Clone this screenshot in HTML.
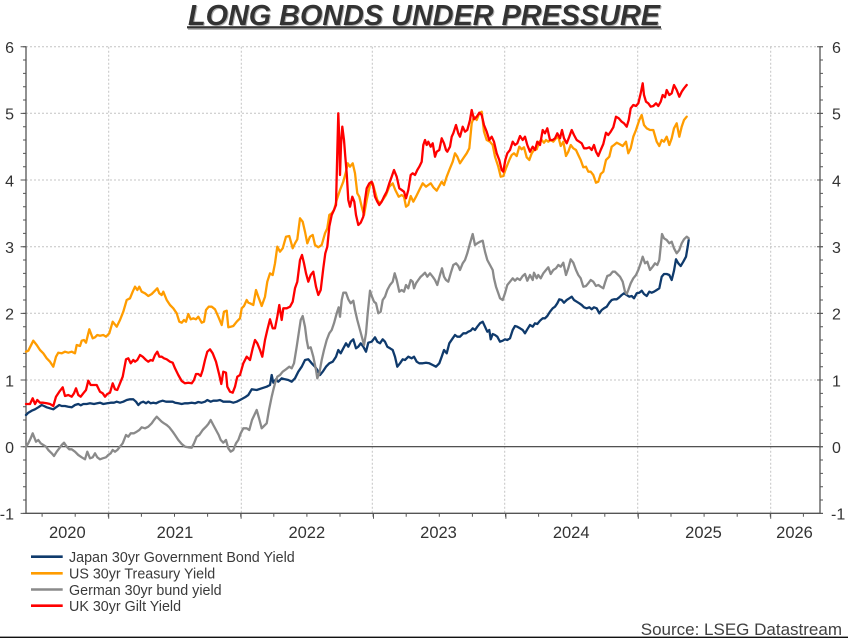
<!DOCTYPE html>
<html>
<head>
<meta charset="utf-8">
<style>
  html,body{margin:0;padding:0;background:#fff;}
  svg{display:block;}
  text{font-family:"Liberation Sans",Arial,sans-serif;}
</style>
</head>
<body>
<svg width="848" height="638" viewBox="0 0 848 638" xmlns="http://www.w3.org/2000/svg">
  <rect x="0" y="0" width="848" height="638" fill="#fff"/>

  <!-- Title -->
  <text x="425" y="26" text-anchor="middle" font-size="28.8" font-weight="bold" font-style="italic" fill="#b0b0b0">LONG BONDS UNDER PRESSURE</text>
  <text x="424" y="25" text-anchor="middle" font-size="28.8" font-weight="bold" font-style="italic" fill="#333">LONG BONDS UNDER PRESSURE</text>
  <rect x="187" y="26.2" width="474" height="2.2" fill="#333"/>
  <rect x="188" y="28.4" width="474" height="1.3" fill="#a0a0a0"/>

  <!-- Gridlines -->
  <g stroke="#c4c4c4" stroke-width="1" stroke-dasharray="2,2" fill="none">
    <line x1="26" y1="46.7" x2="820" y2="46.7"/>
    <line x1="26" y1="113.3" x2="820" y2="113.3"/>
    <line x1="26" y1="180" x2="820" y2="180"/>
    <line x1="26" y1="246.7" x2="820" y2="246.7"/>
    <line x1="26" y1="313.3" x2="820" y2="313.3"/>
    <line x1="26" y1="380" x2="820" y2="380"/>
    <line x1="108.7" y1="46.7" x2="108.7" y2="513.3"/>
    <line x1="241.3" y1="46.7" x2="241.3" y2="513.3"/>
    <line x1="372.3" y1="46.7" x2="372.3" y2="513.3"/>
    <line x1="504.7" y1="46.7" x2="504.7" y2="513.3"/>
    <line x1="637.7" y1="46.7" x2="637.7" y2="513.3"/>
    <line x1="770.7" y1="46.7" x2="770.7" y2="513.3"/>
  </g>

  <!-- zero line -->
  <line x1="26" y1="446.7" x2="820" y2="446.7" stroke="#3a3a3a" stroke-width="1.2"/>

  <!-- Axes -->
  <g stroke="#555" fill="none">
    <line x1="26" y1="46.2" x2="26" y2="514" stroke-width="1.3"/>
    <line x1="820" y1="46.2" x2="820" y2="514" stroke-width="1.3"/>
    <line x1="25.4" y1="513.3" x2="820.6" y2="513.3" stroke-width="1.3"/>
    <!-- left minor ticks -->
    <line x1="24.5" y1="46.2" x2="24.5" y2="514" stroke-width="3" stroke-dasharray="1 12.333"/>
    <!-- left major ticks -->
    <line x1="23.3" y1="46.2" x2="23.3" y2="514" stroke-width="5.4" stroke-dasharray="1 65.667"/>
    <!-- right minor ticks -->
    <line x1="821.5" y1="46.2" x2="821.5" y2="514" stroke-width="3" stroke-dasharray="1 12.333"/>
    <!-- right major ticks -->
    <line x1="820" y1="46.2" x2="820" y2="514" stroke-width="6" stroke-dasharray="1 65.667"/>
    <!-- bottom minor ticks -->
    <line x1="41.6" y1="515" x2="820" y2="515" stroke-width="3.4" stroke-dasharray="1 32.1"/>
    <!-- bottom major ticks -->
    <line x1="108.2" y1="516" x2="820" y2="516" stroke-width="5.4" stroke-dasharray="1 131.4"/>
  </g>

  <!-- Y labels -->
  <g font-size="16" fill="#333" text-anchor="end">
    <text x="14" y="53">6</text>
    <text x="14" y="119.6">5</text>
    <text x="14" y="186.3">4</text>
    <text x="14" y="253">3</text>
    <text x="14" y="319.6">2</text>
    <text x="14" y="386.3">1</text>
    <text x="14" y="453">0</text>
    <text x="14" y="519.6">-1</text>
  </g>
  <g font-size="16" fill="#333" text-anchor="start">
    <text x="832" y="53">6</text>
    <text x="832" y="119.6">5</text>
    <text x="832" y="186.3">4</text>
    <text x="832" y="253">3</text>
    <text x="832" y="319.6">2</text>
    <text x="832" y="386.3">1</text>
    <text x="832" y="453">0</text>
    <text x="831" y="519.6">-1</text>
  </g>

  <!-- X labels -->
  <g font-size="16.5" fill="#333" text-anchor="middle">
    <text x="67.3" y="538">2020</text>
    <text x="175" y="538">2021</text>
    <text x="306.8" y="538">2022</text>
    <text x="438.5" y="538">2023</text>
    <text x="571.2" y="538">2024</text>
    <text x="703.5" y="538">2025</text>
    <text x="794.5" y="538">2026</text>
  </g>

  <!-- Series -->
  <g fill="none" stroke-width="2.3" stroke-linejoin="round" stroke-linecap="round">
    <!-- Japan -->
    <polyline stroke="#0f3a6c" points="26,415 28.3,412.7 31.7,410.7 35,409.3 38.3,407.3 41.7,405 44,406 46.7,407.3 50,408.3 53.3,409.3 56,407.3 59.3,405 61.7,406 65,406 68.3,406.7 71.7,407.3 75,405 78.3,404 80.7,405.3 83.3,404 86.7,404 90,403.3 94,404 97.3,403.3 100,402.7 103.3,404 107.3,403.3 110.7,402.7 114,402.7 116.7,401.7 120,402.7 123.3,401.7 126.7,400 130,399.3 133.3,399.3 136,401.7 138.3,405 140.7,402.7 143.3,401.7 146,403.3 148.3,401.7 150.7,403.3 153.3,402.7 156,403.3 159.3,401.7 162.7,400.7 166,401.7 169.3,401.7 172.7,401.7 175,402.7 178.3,403.3 181.7,404 185,403.3 188.3,403.3 191.7,402.7 195,403.3 198.3,402 201.7,402.7 205,401.7 207.3,400 210.7,401.7 213.3,400.7 216.7,400.7 220,400 223.3,401.7 226.7,401.7 230,401.7 233.3,402.7 236.7,401.7 240,400 245,397.3 248.3,395 251.7,389.3 256.7,390 261.7,388.3 266.7,386.7 270,385 271.7,375 273.3,382.7 276,379.3 278.3,381.7 281.7,378.3 285,379.3 288.3,380 291.7,381.7 295,378.3 298.3,371.7 301.7,366.7 305,360 308.3,359.3 311.7,363.3 315,366.7 317.3,370 320,375 322.7,371.7 326,366.7 329.3,363.3 332.7,361.7 336,356.7 338.3,350 340.7,353.3 343.3,348.3 346,343.3 348.3,346.7 350.7,341.7 353.3,339.3 356,348.3 358.3,346.7 360.7,343.3 363.3,346.7 366,351.7 368.3,342.7 371.7,341.7 375,337.3 377.3,341.7 380,343.3 382.7,339.3 385,341.7 387.3,346.7 390,348.3 392.7,350 395,356.7 397.3,366.7 400,363.3 402.7,359.3 405,360 408.3,356.7 411.7,358.3 414,356.7 416.7,361.7 419.3,363.3 422.7,363.3 426,362.7 429.3,363.3 432.7,365 436,366.7 439.3,363.3 441.7,356.7 444,350 446.7,353.3 449.3,343.3 452.7,338.3 455,335 457.3,336.7 460,336.7 463.3,333.3 466,333.3 468.3,331.7 470.7,330.7 472.7,328.3 475,330 477.3,326.7 480,323.3 482.7,321.7 485,326.7 487.3,331.7 489.3,330 490.7,339.3 492.7,334 495,335 497.3,336.7 500,341.7 502.7,340.7 505,339.3 507.3,340 510,338.3 512.7,330 515,326 517.3,326.7 520,328.3 522.7,330 525,333.3 527.3,329.3 530,325 532.7,326.7 535,323.3 537.3,324 540,320.7 542.7,318.3 545,318.3 547.3,316 550,311.7 552.7,308.3 555,306.7 557.3,303.3 559.3,299.3 561.7,300 564,302.7 566.7,300 569.3,298.3 571.7,296.7 574,300 576.7,301.7 579.3,303.3 581.7,305 584,307.3 586.7,308.3 589.3,307.3 591.7,309.3 594,307.3 596.7,308.3 599.3,313.3 601.7,310 604,308.3 606.7,306.7 609.3,302.7 611.7,300 614,299.3 616.7,299.3 619.3,297.3 621.7,295 624,293.3 626.7,295 629.3,296.7 631.7,296 634,298.3 636.7,293.3 639.3,292.7 641.7,290.7 644,294 646.7,296 649.3,291.7 651.7,292.7 654,291.7 656.7,290 659.3,288.3 661.7,276.7 664,274 666.7,274 669.3,275 671.7,280 674,270.7 676,259.3 678.3,263.3 680.7,266 683.3,261.7 686,256.7 687.7,246.7 688.7,240"/>
    <!-- US -->
    <polyline stroke="#ff9c00" points="26,351.7 28.3,350.7 33.3,340.7 36.7,345 40,350 43.3,353.3 46.7,358.3 50,361.7 53.3,366.7 56,356.7 58.3,352.7 61.7,353.3 65,351.7 68.3,352.7 71.7,351.7 75,353.3 76.7,345 80,346 81.7,340.7 84,340 86,342.7 89.3,329.3 92.7,338.3 95,337.3 97.3,335 100,335.7 103.3,335 106,336.7 109.3,333.3 112.7,321.7 116.7,326.7 120,320 123.3,311.7 126.7,300 130,298.3 132.7,291.7 135,286.7 137.3,290 139.3,286.7 141.7,291.7 145,293.3 148.3,296 151.7,294 155,290.7 157.3,288.3 159.3,293.3 161.7,295 163.3,291.7 166.7,300 170,305 173.3,308.3 176.7,313.3 179.3,321.7 181.7,322.7 184,320 186,321.7 188.3,314 190.7,319.3 193.3,318.3 196,319.3 198.3,316.7 201.7,322.7 204,321.7 206,310 208.7,306.7 211.7,306.7 215,309.3 218.3,316.7 221.7,325 224,311.7 226.7,310.7 228.3,327.3 230.7,326.7 233.3,326 236.7,321.7 240,318.3 241.7,308.3 244,306 246.7,300 248.3,302.7 250,303.3 253.3,305 256,290 258.3,296.7 261.7,306 265,296.7 267.3,281.7 270,273.3 272.7,275 275,263.3 277.3,246.7 280,251.7 282.7,248.3 286,236.7 289.3,236 292.7,248.3 295,243.3 297.3,239.3 300,218.3 302.7,221.7 305,231.7 307.3,243.3 310,236.7 312.7,235 315,245 318.3,247.3 321.7,245 325,233.3 327.3,228.3 329.3,215 331.7,213.3 334,210 336.7,200 340,190 343.3,181.7 346,171.7 347.7,163.3 350,166.7 352.7,163.3 355,173.3 357.3,193.3 359.3,196.7 361.7,206.7 364,215 366.7,200 370,185 372.7,183.3 375,191.7 377.3,200 380,203.3 382.7,200 386,195 389.3,186.7 392.7,183.3 395.3,190 398.7,196.7 401.7,195 404,196.7 406,206.7 408.3,205 410.7,196 413.3,201.7 416,196.7 419.3,190 422.7,183.3 426,186.7 428.3,185 430.7,183.3 433.3,187.3 436.7,190.7 439.3,186 441.7,181.7 444,185 446.7,176.7 449.3,170 452.7,161.7 455,153.3 457.3,156.7 460,163.3 463.3,158.3 466.7,153.3 469.3,148.3 471.7,123.3 474,116.7 476.7,120 479.3,113.3 481.7,111.7 484,131.7 486.7,140 490,141.7 492.7,145 495,156.7 498.3,166.7 500.7,176.7 503.3,176 506,168.3 509.3,160 511.7,155 514,153.3 516.7,156 519.3,146.7 521.7,149.3 524,147.3 526.7,157.3 529.3,160 531.7,153.3 534,150 536.7,149.3 539.3,141.7 541.7,140 544,142.7 546,140 548.3,141.7 550.7,140 553.3,141.7 556,138.3 558.3,136.7 560.7,146 563.3,141.7 566,156 568.3,151.7 570.7,145 573.3,148.3 576,150 578.3,155 580.7,160 583.3,167.3 586,166.7 588.3,171.7 590.7,171.7 593.3,175 596,182.7 598.3,181.7 600.7,174 603.3,171.7 606,160 609.3,156.7 611.7,146.7 614,145 616.7,142.7 619.3,144 622.7,146 626,141.7 628.3,153.3 630.7,148.3 633.3,136.7 636,130 639.3,120 641.7,115 644,125 646.7,128.3 650,130 653.3,130 656.7,141.7 659.3,146 661.7,140 664,141.7 666.7,136.7 669.3,145 671.7,138.3 674,128.3 676.7,123.3 679.3,136.7 681.7,126.7 684,120 686.7,116.7"/>
    <!-- German -->
    <polyline stroke="#8a8a8a" points="26,446.7 28.3,443.3 30.7,438.3 32.7,433.3 34,436.7 36,441.7 38.3,440 40.7,443.3 43.3,445 46,446.7 48.3,450 51.7,453.3 54,456 56.7,451.7 59.3,448.3 61.7,445 64,442.7 66.7,446.7 69.3,449.3 71.7,449.3 75,451.7 78.3,455 81.7,457.3 85,459.3 87.3,451.7 90,458.3 92.7,457.3 95,453.3 97.3,457.3 100,459.3 102.7,458.3 106,457.3 108.3,455 110.7,453.3 112.7,450 115,451.7 117.3,450 120,446.7 122.7,443.3 126,435 128.3,436.7 130.7,433.3 134,433.3 136.7,431.7 139.3,430 141.7,427.3 145,428.3 148.3,426.7 151.7,423.3 154,420 156.7,416.7 159.3,419.3 161.7,421.7 164,423.3 166.7,425 169.3,427.3 172.7,431.7 175,435 178.3,440 181.7,444 185,446.7 188.3,447.3 191.7,447.7 194,443.3 196.7,436.7 199.3,435 202.7,430 206,426.7 208.3,424 210.7,420 213.3,425 216,430 218.7,435 220.7,440 223.3,442.7 226,440 228.3,448.3 230.7,451.7 233.3,450 236,443.3 238.3,440 240.7,433.3 243.3,428.3 246.7,428.3 249.3,430 252,420 256.7,410 259,418 261.7,428.3 264,426 266.7,423.3 269,410 271.7,396.7 273.3,390 275,383.3 277.3,376.7 280,375 282.7,371.7 286,369.3 289.3,366.7 291.7,368.3 294,363.3 296.7,346.7 298.7,333.3 300.7,320 302.7,316 305,326.7 306.7,340 308.3,348.3 310.7,347.3 313.3,356.7 316,370 317.3,378.3 319.3,373.3 321.7,360 324,350 326.7,340 329.3,333.3 331.7,330 334,323.3 336.7,313.3 338.7,307.3 340,316.7 341.7,300 343.3,292.7 346,292.7 348.3,299.3 350.7,303.3 353.3,300.7 355,310 357.3,320 360,330 362.7,340 364,345 366,333.3 367.7,313.3 370,290.7 372,296.7 374,301.7 376,303.3 378.3,313.3 380.7,311.7 382.7,300 385,296.7 387.3,290 390,285 392.7,281.7 394.7,273.3 396.7,280 399.3,291.7 401.7,290 404,291.7 406,285 408.3,288.3 410.7,280 412.7,281.7 414,288.3 416,283.3 418.3,280 420.7,276.7 422.7,275 425,272.7 427.3,276.7 430,273.3 432.7,276.7 435,280 437.3,285 440,275 442,268.3 444,276.7 446,280 448.3,281.7 450.7,273.3 453.3,265 456,263.3 458.3,266 460,270 462.7,263.3 465,260 467.3,253.3 470,243.3 472.7,234 475,245 477.3,243.3 480,241.7 482.7,240.7 485,251.7 487.3,260 490,265 492.7,270 494,278.3 496,286.7 498.3,293.3 500,298.3 502.7,300 505,293.3 507.3,285 510,281.7 512.7,278.3 515,280.7 517.3,278.3 520,280 522.7,276 525,274 527.3,280.7 530,275 532.7,280 534,272.7 536.7,278.3 538.3,275 540.7,278.3 543.3,273.3 546,270 548.3,267.3 550.7,274 553.3,270 556,268.3 558.3,265 560.7,266.7 563.3,262.7 566,275 568.3,268.3 570.7,259.3 573.3,262.7 576,270 578.3,275 580.7,278.3 583.3,286.7 586,286 588.3,283.3 590.7,280 593.3,281.7 596,286 598.3,285 600.7,286.7 603.3,288.3 605.3,281.7 607.3,276 610,275 612.7,271.7 615,271.7 617.3,274 620,276.7 622.7,281.7 625,291.7 626.7,294 628.3,290 630.7,283.3 633.3,278.3 636,275 638.3,270 640.7,263.3 642.7,256.7 645,263.3 647.3,261.7 650,270 652.7,266.7 655,263.3 657.3,265 659.3,260 660.7,246.7 662,234 664,238.3 666.7,240 669.3,243.3 671.7,241.7 674,248.3 676.7,253.3 679.3,250 681.7,243.3 684,239.3 686.7,236.7 688.7,238.3"/>
    <!-- UK -->
    <polyline stroke="#ff0000" points="26,404 30,404 32.7,398.3 35,404 37.3,400 40,402.7 43.3,402.7 46.7,403.3 50,404 53.3,406 56,396.7 59.3,391.7 62.7,387.3 65,396 68.3,395 71.7,396.7 74,393.3 76,388.3 78.3,395 80.7,396.7 83.3,393.3 86,390 88.3,380.7 90.7,385 93.3,385 96.7,385 100,391.7 102.7,393.3 105,396.7 107.3,394 110,392.7 112.7,383.3 115,389.3 117.3,390 120,383.3 122.7,376.7 126,359.3 128.3,358.3 130.7,363.3 133.3,360 135,361.7 137.3,360 140,355 142.7,356.7 146,360 148.3,361.7 150.7,360 152.7,360.7 155,355 157.3,351.7 159.3,356.7 161.7,356.7 164,358.3 166.7,359.3 170,361.7 172.7,362.7 175,368.3 178.3,375 181.7,381 185,383.3 188.3,382.7 191.7,383.3 194,380 196,374 198.3,374 200.7,376 202.7,370 205,360 207.3,351.7 210,349.3 212.7,353.3 216,361.7 219.3,375 221.3,384 223.3,371.7 226,372.7 227.3,386.7 230,391.7 232.7,392.7 235,386.7 237.3,376.7 240,375 243.3,363.3 246.7,356.7 250,360 252.7,348.3 255,340 257.3,343.3 260,350 262.3,356.7 265,340 267.3,330 270,319.3 272.7,328.3 275,328.3 277.3,316.7 279.3,305 281.7,320 283.3,308.3 286.7,308.3 290,306.7 292.7,301.7 295,288.3 297.3,281.7 300,260 302,255 304,263.3 306,273.3 308.3,281.7 310.7,275 313.3,271.7 316,286.7 318.3,295 320.7,290 323.3,268.3 325.3,253.3 327.3,246.7 329.3,226.7 331.7,215 334,210 336,205 337.3,151.7 338.3,113.3 339.3,140 340,175 341,145 342.3,126.7 344,140 345.3,156.7 346.7,173.3 348.3,200 350,206.7 352.3,196.7 354.3,201.7 356,215 358.3,225 360.7,222.7 363.3,216.7 365,200 366.7,188.3 369.3,183.3 371.7,181.7 373.3,186.7 375,196.7 377.3,201.7 379.3,205 381.7,201.7 384,196.7 386.7,191.7 389.3,183.3 391.7,176.7 394,170 396.7,176.7 399.3,188.3 401.7,190 404,191.7 406,198.3 408.3,190 410.7,175 412.7,173.3 415,175 417.3,170 419.3,166.7 421.7,161.7 423.3,145 425,140 426.7,145 428.3,141.7 430.7,146.7 432.7,143.3 435,156.7 436.7,151.7 439.3,150 441.7,138.3 444,143.3 446,150 447.3,151.7 450,146.7 451.7,136.7 453.3,133.3 456,125 458.3,133.3 460,136.7 462.7,126.7 465,131.7 467.3,130 470,120 471.7,110 474,119.3 476.7,116.7 479.3,112.7 481.7,115 484,125 486.7,131.7 489.3,140 491.7,136.7 494,141.7 496.7,153.3 499.3,160 501.7,170 503.3,171.7 505.3,160 507.3,153.3 510,150 512.7,141.7 515,145 517.3,143.3 520,136 522.7,140 525,136.7 527.3,145 530,151.7 532.7,146.7 535,150 537.3,141.7 540,145 542.7,130 545,133.3 547.3,128.3 550,140 552.7,140 555,138.3 557.3,133.3 560,138.3 562,130 564,138.3 566.7,143.3 569.3,136.7 571.7,130 574,135 576.7,140 579.3,141.7 581.7,143.3 584,148.3 586.7,148.3 589.3,147.3 591.7,150 594,145 596,151.7 598.3,156 600.7,150 603.3,144 606,132.7 608.3,135 610.7,131.7 613.3,127.3 616,116.7 618.7,118.3 621.7,121.7 624,123.3 626.7,126.7 628.7,120 630.7,108.3 633.3,105 636,106 638.3,103.3 640.7,93.3 642.7,83.3 644,95 646,101.7 648.3,103.3 650.7,106.7 653.3,106 656,103.3 658.3,106 660.7,101.7 662.7,95 665,97.3 666.7,90 669.3,95 671.7,93.3 674,85 676.7,90 679.3,96.7 681.7,91.7 684,88.3 686.7,85"/>
  </g>

  <!-- Legend -->
  <g stroke-width="2.6">
    <line x1="31" y1="556.7" x2="62.7" y2="556.7" stroke="#0f3a6c"/>
    <line x1="31" y1="573.3" x2="62.7" y2="573.3" stroke="#ff9c00"/>
    <line x1="31" y1="589.5" x2="62.7" y2="589.5" stroke="#8a8a8a"/>
    <line x1="31" y1="605.7" x2="62.7" y2="605.7" stroke="#ff0000"/>
  </g>
  <g font-size="14.3" fill="#3a3a3a">
    <text x="69" y="562">Japan 30yr Government Bond Yield</text>
    <text x="69" y="578.6">US 30yr Treasury Yield</text>
    <text x="69" y="594.8">German 30yr bund yield</text>
    <text x="69" y="611">UK 30yr Gilt Yield</text>
  </g>

  <!-- Source -->
  <text x="842" y="635" text-anchor="end" font-size="17" fill="#404040">Source: LSEG Datastream</text>

  <!-- bottom border -->
  <rect x="0" y="636.6" width="848" height="1.4" fill="#111"/>
</svg>
</body>
</html>
